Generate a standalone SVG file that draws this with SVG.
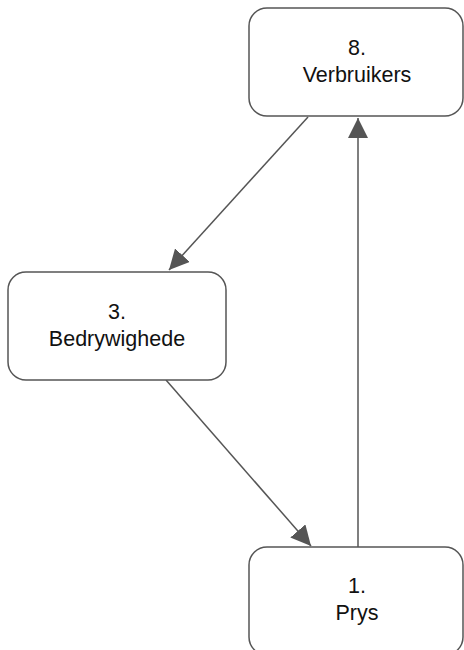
<svg xmlns="http://www.w3.org/2000/svg" width="464" height="650" viewBox="0 0 464 650">
  <defs>
    <marker id="arrow" markerWidth="20" markerHeight="20" viewBox="0 0 20 20" refX="20" refY="10" orient="auto" markerUnits="userSpaceOnUse">
      <path d="M0,0 L20,10 L0,20 Z" fill="#555555"/>
    </marker>
    <style>
      .node rect { fill: #ffffff; stroke: #555555; stroke-width: 1.5; }
      .node text { font-family: "Liberation Sans", Arial, sans-serif; font-size: 21.5px; fill: #111111; text-anchor: middle; }
      .edge { stroke: #555555; stroke-width: 1.5; fill: none; marker-end: url(#arrow); }
    </style>
  </defs>
  <rect width="464" height="650" fill="#ffffff"/>
  <g id="connectors">
    <line class="edge" x1="308" y1="117" x2="169" y2="270"/>
    <line class="edge" x1="166" y1="380" x2="311" y2="546"/>
    <line class="edge" x1="358" y1="547" x2="358" y2="118"/>
  </g>
  <g id="node-verbruikers" class="node">
    <rect x="249" y="8" width="214" height="108" rx="18" ry="18"/>
    <text x="357" y="55">8.</text>
    <text x="357" y="82">Verbruikers</text>
  </g>
  <g id="node-bedrywighede" class="node">
    <rect x="8" y="272" width="218" height="108" rx="18" ry="18"/>
    <text x="117" y="319">3.</text>
    <text x="117" y="346">Bedrywighede</text>
  </g>
  <g id="node-prys" class="node">
    <rect x="249" y="547" width="214" height="108" rx="18" ry="18"/>
    <text x="357" y="593">1.</text>
    <text x="357" y="620">Prys</text>
  </g>
</svg>
